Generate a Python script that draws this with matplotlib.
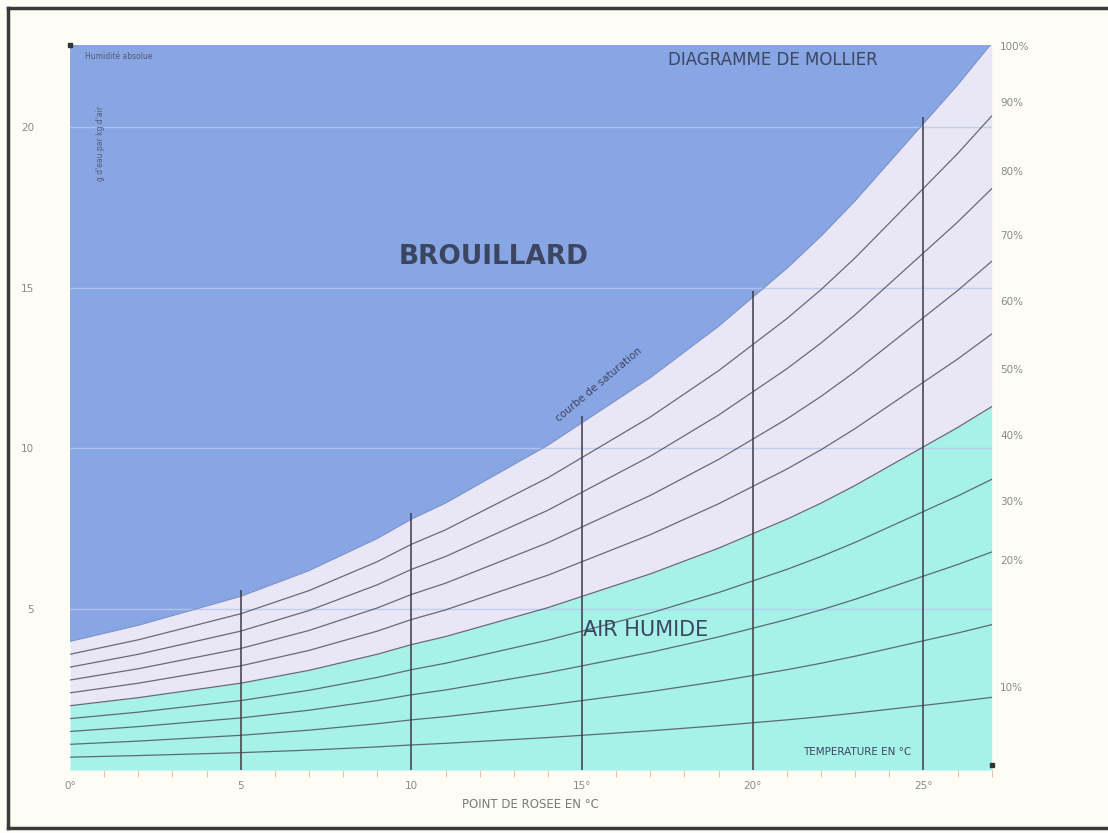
import matplotlib
matplotlib.use('Agg')
import matplotlib.pyplot as plt
from matplotlib.lines import Line2D
import numpy as np

# point de rosee (deg C) and saturation curve (g d'eau / kg d'air)
temp = list(range(28))
sat = [4.0, 4.25, 4.5, 4.8, 5.1, 5.4, 5.8, 6.2, 6.7, 7.2, 7.8, 8.3, 8.9, 9.5,
       10.1, 10.8, 11.5, 12.2, 13.0, 13.8, 14.7, 15.6, 16.6, 17.7, 18.9,
       20.1, 21.3, 22.6]
rh_levels = [10, 20, 30, 40, 50, 60, 70, 80, 90]
rh_labels = ['100%', '90%', '80%', '70%', '60%', '50%', '40%', '30%', '20%', '10%']
rh_label_y = [22.5, 20.75, 18.6, 16.6, 14.55, 12.45, 10.4, 8.35, 6.5, 2.55]
xticks = [0, 5, 10, 15, 20, 25]
xticklabels = ['0°', '5', '10', '15°', '20°', '25°']
yticks = [5, 10, 15, 20]

T = np.array(temp, dtype=float)
S = np.array(sat)

fig = plt.figure(figsize=(11.08, 8.33), dpi=100)
fig.patch.set_facecolor('#fdfdf6')
ax = fig.add_axes([0.0632, 0.0756, 0.8318, 0.8704])
ax.set_xlim(0, 27)
ax.set_ylim(0, 22.55)

blue = '#89a6e4'
lav = '#e9e6f5'
teal = '#a6f1e8'

ax.fill_between(T, S, 30, color=blue, lw=0, zorder=1)
ax.fill_between(T, S * 0.5, S, color=lav, lw=0, zorder=1)
ax.fill_between(T, 0, S * 0.5, color=teal, lw=0, zorder=1)

# faint horizontal grid
for y in yticks:
    ax.axhline(y, color='#b9c9ef', lw=1, alpha=0.8, zorder=2)

# relative humidity curves
for p in rh_levels:
    ax.plot(T, S * p / 100.0, color='#4a4a55', lw=0.9, alpha=0.8, zorder=3)
ax.plot(T, S, color='#7c90c8', lw=0.8, zorder=3)

# vertical lines up to saturation
for x in xticks[1:]:
    ax.vlines(x, 0, sat[x] + 0.2, color='#3c3c44', lw=1.1, zorder=4)

for s in ax.spines.values():
    s.set_visible(False)

ax.set_xticks(xticks)
ax.set_xticklabels(xticklabels, color='#8a8a8a', fontsize=7.5)
ax.set_xticks(temp, minor=True)
ax.tick_params(axis='x', which='both', direction='out', color='#e8b0a8', length=5, pad=8)
ax.tick_params(axis='x', which='major', length=0)
ax.set_yticks(yticks)
ax.set_yticklabels([str(v) for v in yticks], color='#8a8a8a', fontsize=7.5)
ax.tick_params(axis='y', length=0, pad=26)

ax.set_xlabel('POINT DE ROSEE EN °C', color='#7a7a7a', fontsize=8.5, labelpad=5)

for lab, y in zip(rh_labels, rh_label_y):
    ax.text(27.25, y, lab, color='#8a8a8a', fontsize=7.5, va='center', ha='left')

txt = '#3c4660'
ax.text(0.45, 22.2, 'Humidité absolue', fontsize=5.5, color='#555a70', va='center')
ax.text(0.88, 19.5, "g d'eau par kg d'air", fontsize=5.5, color='#555a70',
        rotation=90, ha='center', va='center')
ax.text(20.6, 22.08, 'DIAGRAMME DE MOLLIER', fontsize=12, color=txt,
        ha='center', va='center')
ax.text(12.4, 15.95, 'BROUILLARD', fontsize=19, fontweight='bold', color=txt,
        ha='center', va='center')
ax.text(15.5, 12.0, 'courbe de saturation', fontsize=7.5, color=txt,
        rotation=40, ha='center', va='center')
ax.text(16.85, 4.35, 'AIR HUMIDE', fontsize=15, color=txt,
        ha='center', va='center')
ax.text(23.05, 0.56, 'TEMPERATURE EN °C', fontsize=7.5, color=txt,
        ha='center', va='center')

# small corner marks
ax.plot([0], [22.55], marker='s', ms=3, color='#333', clip_on=False, zorder=5)
ax.plot([27], [0.15], marker='s', ms=3, color='#333', clip_on=False, zorder=5)

# frame of the scanned page
fw = '#3a3a3a'
fig.add_artist(Line2D([8 / 1108, 8 / 1108], [5 / 833, 825 / 833], color=fw, lw=2.5))
fig.add_artist(Line2D([8 / 1108, 1.0], [825 / 833, 825 / 833], color=fw, lw=2.5))
fig.add_artist(Line2D([8 / 1108, 1.0], [5 / 833, 5 / 833], color=fw, lw=2.5))

fig.savefig('out.png', dpi=100, facecolor=fig.get_facecolor())
